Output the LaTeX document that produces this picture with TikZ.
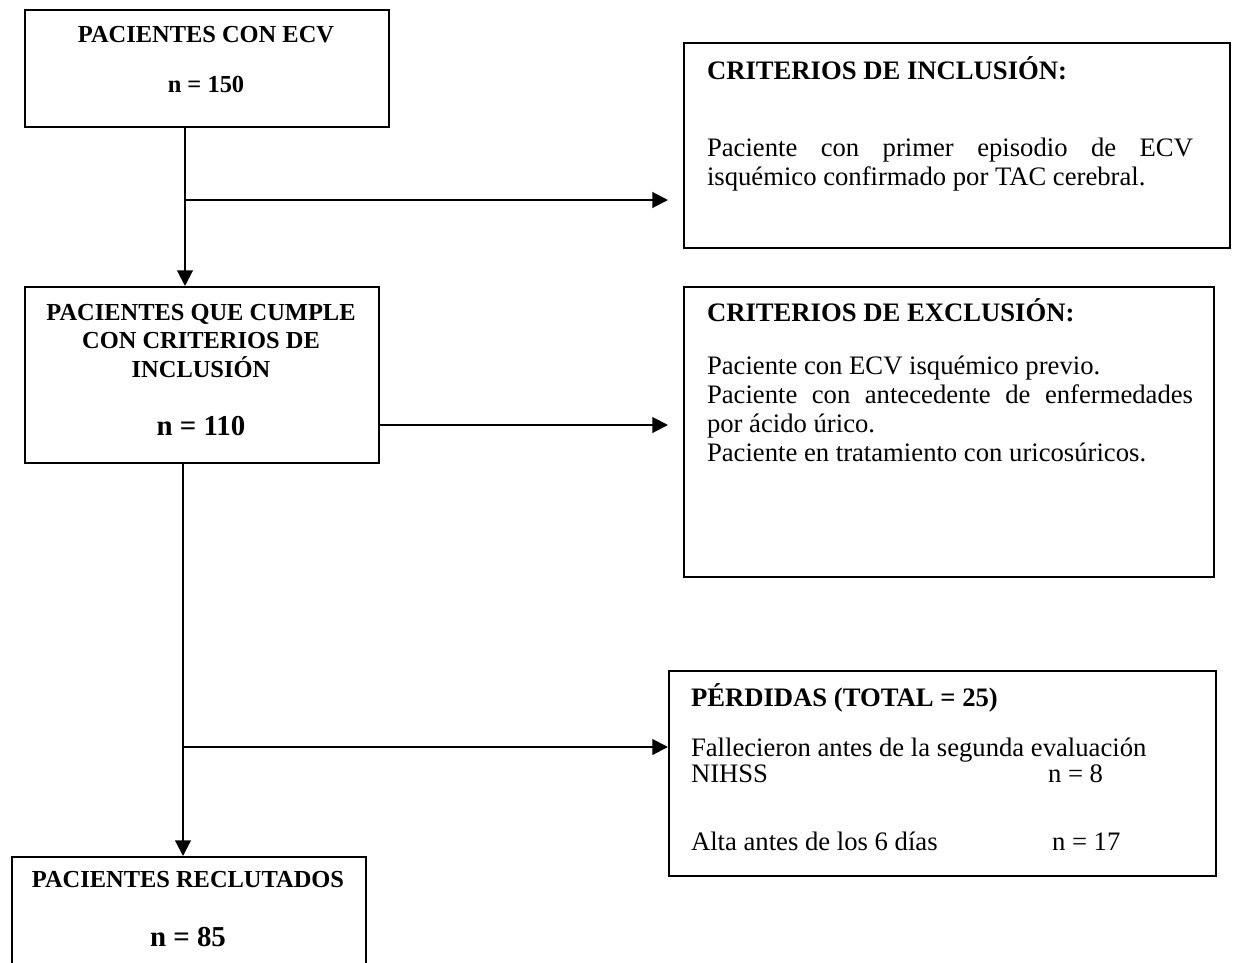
\documentclass[tikz,border=0pt]{standalone}
\usepackage{fontspec}
\setmainfont{Liberation Serif}
\usetikzlibrary{arrows.meta}
\begin{document}
\begin{tikzpicture}[x=0.45pt,y=-0.45pt,line width=0.9pt,>={Triangle[length=7pt,width=7pt]},
    caja/.style={draw,line width=0.8pt,anchor=north west,inner sep=0pt},
    tit/.style={font=\bfseries\fontsize{11}{13}\selectfont,align=center,inner sep=0pt},
    num/.style={font=\bfseries\fontsize{13}{15}\selectfont,inner sep=0pt},
    cab/.style={font=\bfseries\fontsize{12}{14}\selectfont,anchor=base west,inner sep=0pt},
    lin/.style={font=\fontsize{12}{14}\selectfont,anchor=base west,inner sep=0pt}]
    \clip (0,0) rectangle (1235,962);
    % izquierda
    \node[caja,minimum width=163.8pt,minimum height=52.65pt] (ecv) at (24,9) {};
    \node[tit] (ecvt) at (206,35) {PACIENTES CON ECV};
    \node[tit] (ecvn) at (206,84) {n = 150};
    \node[caja,minimum width=159.3pt,minimum height=79.2pt] (cumple) at (24,286) {};
    \node[tit] (cumplet) at (201,341) {PACIENTES QUE CUMPLE\\CON CRITERIOS DE\\INCLUSIÓN};
    \node[num] (cumplen) at (201,426) {n = 110};
    \node[caja,minimum width=159.3pt,minimum height=67.5pt] (recl) at (11,856) {};
    \node[tit] (reclt) at (188,880) {PACIENTES RECLUTADOS};
    \node[num] (recln) at (188,937) {n = 85};
    % derecha
    \node[caja,minimum width=245.7pt,minimum height=92.25pt] (inc) at (683,42) {};
    \node[cab] (inct) at (706,79) {CRITERIOS DE INCLUSIÓN:};
    \node[lin] (inc1) at (706,156) {\makebox[218.7pt][s]{Paciente con primer episodio de ECV}};
    \node[lin] (inc2) at (706,185) {isquémico confirmado por TAC cerebral.};
    \node[caja,minimum width=238.5pt,minimum height=130.5pt] (exc) at (683,286) {};
    \node[cab] (exct) at (706,321) {CRITERIOS DE EXCLUSIÓN:};
    \node[lin] (exc1) at (706,374) {Paciente con ECV isquémico previo.};
    \node[lin] (exc2) at (706,403) {\makebox[218.7pt][s]{Paciente con antecedente de enfermedades}};
    \node[lin] (exc3) at (706,432) {por ácido úrico.};
    \node[lin] (exc4) at (706,461) {Paciente en tratamiento con uricosúricos.};
    \node[caja,minimum width=246.15pt,minimum height=92.25pt] (per) at (668,670) {};
    \node[cab] (pert) at (690,706) {PÉRDIDAS (TOTAL = 25)};
    \node[lin] (per1) at (690,756) {Fallecieron antes de la segunda evaluación};
    \node[lin] (per2) at (690,782) {NIHSS};
    \node[lin] (per2n) at (1047,782) {n = 8};
    \node[lin] (per3) at (690,850) {Alta antes de los 6 días};
    \node[lin] (per3n) at (1051,850) {n = 17};
    % flechas
    \coordinate (r1) at (185,200);
    \coordinate (r2) at (0,425);
    \coordinate (r3) at (183,747);
    \draw[->] (ecv.south -| r1) -- (cumple.north -| r1);
    \draw[->,shorten >=6.75pt] (r1) -- (inc.west |- r1);
    \draw[->,shorten >=6.75pt] (cumple.east |- r2) -- (exc.west |- r2);
    \draw[->] (cumple.south -| r3) -- (recl.north -| r3);
    \draw[->] (r3) -- (per.west |- r3);
\end{tikzpicture}
\end{document}
